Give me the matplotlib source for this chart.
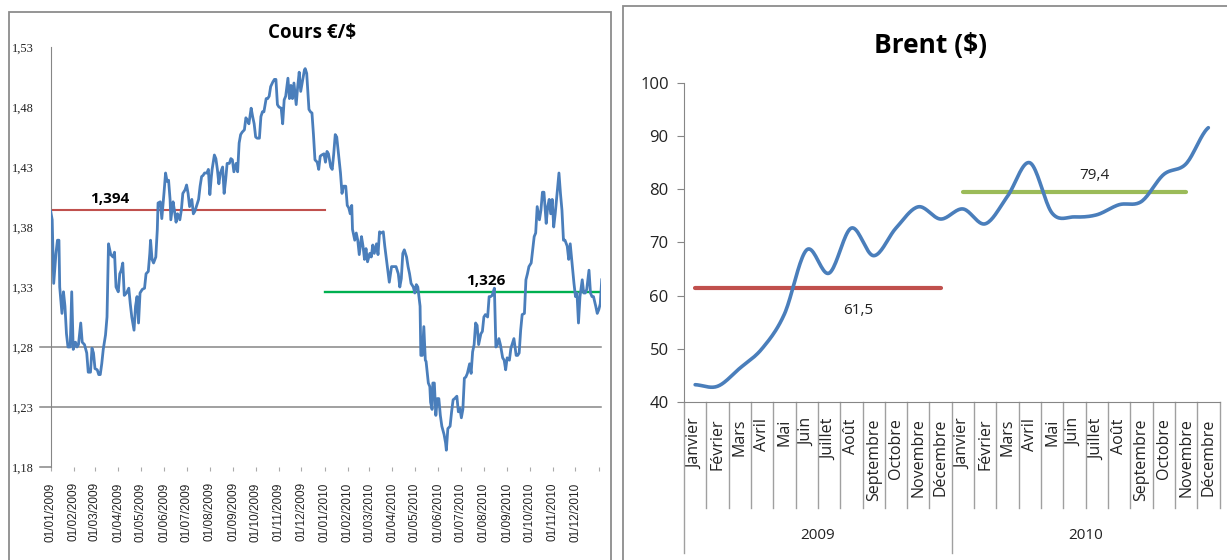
import numpy as np
import matplotlib.pyplot as plt
from matplotlib.patches import Rectangle
import matplotlib.transforms as mtransforms

# ---- Cours EUR/USD (jours depuis le 01/01/2009) ----
jours = [0, 2, 4, 7, 9, 11, 12, 15, 17, 19, 21, 23, 26, 28, 30, 33, 35, 37, 40, 42, 45, 48, 50, 53, 55, 57, 59, 62, 64, 66,
         68, 70, 73, 75, 77, 80, 83, 85, 87, 90, 92, 94, 96, 98, 101, 104, 106, 108, 111, 113, 115, 117, 119, 122, 125, 127,
         130, 132, 133, 135, 137, 140, 142, 143, 146, 148, 151, 153, 155, 157, 159, 160, 163, 165, 167, 169, 172, 174, 176,
         179, 181, 183, 185, 188, 190, 192, 194, 197, 199, 201, 203, 205, 208, 210, 212, 214, 215, 218, 220, 222, 224, 226,
         229, 231, 233, 235, 238, 240, 242,
         244, 247, 249, 251, 253, 255, 258, 260, 262, 264, 267, 269, 271, 273, 275, 278, 280, 282, 284, 287, 289, 291, 293,
         296, 298, 300, 302, 304, 307, 309, 311, 313, 316, 318, 320, 322, 324, 327, 329, 331, 333, 336, 338, 339, 341, 344,
         346, 348, 350, 352, 355, 357, 359, 361, 364, 366, 368, 370, 373, 375, 377, 379, 381, 384, 386, 388, 390, 393, 395,
         397, 399, 401, 402, 405, 407, 409, 411, 414, 416, 418, 420, 422, 425, 427, 429, 431, 434, 436, 438, 440, 443, 445,
         447, 449, 451, 454, 456, 458, 460, 463, 465, 467, 469, 471, 474, 476, 478, 480, 483, 485, 487,
         489, 492, 493, 495, 497, 499, 500, 503, 505, 506, 508, 509, 511, 513, 515, 517, 519, 521, 524, 526, 527, 529, 532,
         534, 536, 538, 541, 543, 545, 547, 549, 551, 553, 555, 558, 560, 562, 564, 566, 568, 570, 573, 575, 577, 579, 582,
         584, 586, 588, 591, 593, 595, 597, 599, 602, 604, 606, 608, 611, 613, 615, 617, 620, 622, 624, 626, 628, 631, 633,
         635, 637, 640, 642, 644, 646, 648, 651, 653, 655, 657, 660, 662, 664, 666, 668, 670, 672, 674, 677, 679, 681, 683,
         685, 688, 690, 692, 694, 697, 699, 701, 703, 705, 708, 710, 712, 714, 717, 719, 721, 723, 726, 728, 730, 732, 734]
cours = [1.393, 1.386, 1.333, 1.358, 1.369, 1.369, 1.330, 1.308, 1.326, 1.314, 1.291, 1.280, 1.280, 1.326, 1.278, 1.284,
         1.280, 1.282, 1.300, 1.284, 1.282, 1.275, 1.259, 1.259, 1.279, 1.275, 1.262, 1.261, 1.257, 1.257, 1.266, 1.278,
         1.290, 1.305, 1.366, 1.357, 1.355, 1.359, 1.330, 1.326, 1.341, 1.344, 1.350, 1.323, 1.325, 1.329, 1.316, 1.305,
         1.294, 1.314, 1.322, 1.300, 1.325, 1.328, 1.329, 1.341, 1.343, 1.358, 1.369, 1.353, 1.350, 1.355, 1.378, 1.400,
         1.401, 1.387, 1.409, 1.425, 1.418, 1.419, 1.403, 1.386, 1.401, 1.393, 1.384, 1.391, 1.386, 1.394, 1.408, 1.411,
         1.415, 1.408, 1.397, 1.403, 1.391, 1.393, 1.397, 1.403, 1.414, 1.422, 1.423, 1.425, 1.425, 1.428, 1.407, 1.422,
         1.428, 1.440, 1.437, 1.428, 1.416, 1.425, 1.430, 1.408, 1.419, 1.433, 1.433, 1.437, 1.436,
         1.426, 1.433, 1.426, 1.450, 1.457, 1.459, 1.461, 1.471, 1.469, 1.466, 1.479, 1.472, 1.466, 1.455, 1.454, 1.454,
         1.472, 1.476, 1.476, 1.487, 1.487, 1.489, 1.497, 1.501, 1.503, 1.503, 1.482, 1.480, 1.479, 1.466, 1.486, 1.489,
         1.504, 1.487, 1.498, 1.487, 1.500, 1.482, 1.497, 1.509, 1.493, 1.504, 1.511, 1.512, 1.508, 1.478, 1.476, 1.475,
         1.457, 1.436, 1.434, 1.428, 1.439, 1.440, 1.441, 1.434, 1.443, 1.441, 1.430, 1.428, 1.441, 1.457, 1.455, 1.437,
         1.425, 1.408, 1.414, 1.414, 1.398, 1.396, 1.391, 1.398, 1.378, 1.369, 1.375, 1.369, 1.357, 1.372, 1.364, 1.353,
         1.362, 1.351, 1.358, 1.355, 1.365, 1.358, 1.366, 1.357, 1.376, 1.375, 1.376, 1.364, 1.354, 1.344, 1.334, 1.347,
         1.347, 1.347, 1.347, 1.341, 1.330, 1.337, 1.358, 1.361, 1.355, 1.347, 1.341, 1.333, 1.330, 1.325, 1.332,
         1.330, 1.314, 1.273, 1.273, 1.297, 1.269, 1.268, 1.250, 1.247, 1.234, 1.228, 1.250, 1.250, 1.223, 1.237, 1.237,
         1.223, 1.214, 1.207, 1.200, 1.194, 1.212, 1.214, 1.226, 1.236, 1.237, 1.239, 1.226, 1.229, 1.221, 1.228, 1.254,
         1.255, 1.258, 1.266, 1.258, 1.276, 1.282, 1.300, 1.298, 1.282, 1.291, 1.293, 1.305, 1.307, 1.305, 1.322, 1.322,
         1.323, 1.329, 1.280, 1.282, 1.287, 1.282, 1.271, 1.269, 1.261, 1.271, 1.269, 1.279, 1.283, 1.287, 1.273, 1.273,
         1.275, 1.294, 1.307, 1.308, 1.336, 1.341, 1.347, 1.350, 1.361, 1.372, 1.375, 1.397, 1.386, 1.394, 1.409, 1.409,
         1.383, 1.397, 1.403, 1.391, 1.403, 1.380, 1.391, 1.405, 1.425, 1.408, 1.394, 1.369, 1.369, 1.364, 1.353, 1.366,
         1.353, 1.333, 1.322, 1.325, 1.300, 1.322, 1.336, 1.325, 1.325, 1.328, 1.344, 1.325, 1.322, 1.322, 1.314, 1.308,
         1.311, 1.316, 1.336]
moy_cours = [1.394, 1.326]
moy_cours_txt = ['1,394', '1,326']

# ---- Brent ($), moyennes mensuelles ----
mois = ['Janvier', 'Février', 'Mars', 'Avril', 'Mai', 'Juin', 'Juillet', 'Août',
        'Septembre', 'Octobre', 'Novembre', 'Décembre']
annees = ['2009', '2010']
brent = [43.2, 42.9, 46.3, 50.0, 56.5, 68.6, 64.2, 72.7, 67.5, 72.7, 76.7, 74.4,
         76.3, 73.5, 78.7, 85.0, 75.5, 74.8, 75.2, 77.1, 77.7, 82.8, 84.8, 91.6]
moy_brent = [61.5, 79.4]
moy_brent_txt = ['61,5', '79,4']

W, H = 1227, 560
fig = plt.figure(figsize=(W / 100, H / 100), dpi=100)
GRIS = '#868686'
BLEU = '#4A7EBB'


def box(x0, y0, x1, y1):
    # pixels (origine en haut a gauche) -> coordonnees figure
    return [x0 / W, 1 - y1 / H, (x1 - x0) / W, (y1 - y0) / H]


# cadres des deux graphiques
fig.patches.append(Rectangle((9 / W, -0.01), 602 / W, (548 + 6) / H, transform=fig.transFigure,
                             fill=False, ec='#8c8c8c', lw=1.3))
fig.patches.append(Rectangle((622.5 / W, -0.01), 0.6, (554 + 6) / H, transform=fig.transFigure,
                             fill=False, ec='#8c8c8c', lw=1.3))

# ================= graphique de gauche =================
ax1 = fig.add_axes(box(50.7, 47, 601, 467))
j = np.array(jours)
ax1.plot(j, cours, color=BLEU, lw=2.0, zorder=3)
ax1.set_xlim(0, 733)
ax1.set_ylim(1.18, 1.53)

# lignes de moyenne par annee
debut = [0, 365]
fin = [365, 734]
ax1.plot([debut[0], fin[0]], [moy_cours[0]] * 2, color='#C0504D', lw=1.5, zorder=2)
ax1.plot([debut[1], fin[1]], [moy_cours[1]] * 2, color='#00B050', lw=1.7, zorder=2)
ax1.text(78, moy_cours[0] + 0.009, moy_cours_txt[0], ha='center', va='center',
         fontsize=11, fontweight='bold', family='Open Sans')
ax1.text(580, moy_cours[1] + 0.009, moy_cours_txt[1], ha='center', va='center',
         fontsize=11, fontweight='bold', family='Open Sans')

# grille (seulement 1,23 et 1,28) et petit trait a 1,18
for g in [1.23, 1.28]:
    ax1.plot([-0.019, 1], [g, g], color=GRIS, lw=1.1, transform=ax1.get_yaxis_transform(),
             clip_on=False, zorder=1)
ax1.plot([-0.019, 0], [1.18, 1.18], color=GRIS, lw=1.1, transform=ax1.get_yaxis_transform(),
         clip_on=False)

yt = np.arange(1.18, 1.531, 0.05)
ax1.set_yticks(yt)
ax1.set_yticklabels([f'{v:.2f}'.replace('.', ',') for v in yt], family='Liberation Serif',
                    fontsize=9, color='#222222')
ax1.tick_params(axis='y', length=0, pad=12)

m = np.arange('2009-01', '2011-02', dtype='datetime64[M]')
mj = (m.astype('datetime64[D]') - np.datetime64('2009-01-01')).astype(int)
lbl = [f'01/{(k % 12) + 1:02d}/{2009 + k // 12}' for k in range(len(m) - 1)] + ['']
ax1.set_xticks(mj)
ax1.set_xticklabels(lbl, rotation=90, fontsize=8.5, family='Liberation Sans', color='#222222')
ax1.tick_params(axis='x', length=3, color='#aaaaaa', pad=8)

for s in ['top', 'right', 'bottom']:
    ax1.spines[s].set_visible(False)
ax1.spines['left'].set_color(GRIS)
fig.text(312 / W, 1 - 33 / H, 'Cours €/$', ha='center', va='center', fontsize=13.5,
         fontweight='bold', family='Open Sans')

# ================= graphique de droite =================
ax2 = fig.add_axes(box(684, 83.1, 1219.5, 401.7))


def lisse(y, n=20):
    # courbe lissee (type Excel : Catmull-Rom)
    p = np.concatenate([[y[0]], y, [y[-1]]])
    xs, ys = [], []
    t = np.linspace(0, 1, n, endpoint=False)
    for i in range(1, len(p) - 2):
        p0, p1, p2, p3 = p[i - 1], p[i], p[i + 1], p[i + 2]
        ys.append(0.5 * (2 * p1 + (p2 - p0) * t + (2 * p0 - 5 * p1 + 4 * p2 - p3) * t ** 2
                         + (3 * p1 - p0 - 3 * p2 + p3) * t ** 3))
        xs.append(i - 1 + t)
    xs.append([len(y) - 1])
    ys.append([y[-1]])
    return np.concatenate(xs), np.concatenate(ys)


xs, ys = lisse(np.array(brent))
ax2.plot(xs, ys, color=BLEU, lw=2.6, solid_capstyle='round', zorder=3)
ax2.plot([0, 11], [moy_brent[0]] * 2, color='#C0504D', lw=3, solid_capstyle='round', zorder=2)
ax2.plot([12, 22], [moy_brent[1]] * 2, color='#9BBB59', lw=3, solid_capstyle='round', zorder=2)
ax2.text(7.3, moy_brent[0] - 4.3, moy_brent_txt[0], ha='center', va='center', fontsize=11,
         family='Open Sans', color='#222222')
ax2.text(17.9, moy_brent[1] + 3.2, moy_brent_txt[1], ha='center', va='center', fontsize=11,
         family='Open Sans', color='#222222')

ax2.set_xlim(-0.5, 23.5)
ax2.set_ylim(40, 100)
ax2.set_yticks(np.arange(40, 101, 10))
ax2.set_yticklabels([str(v) for v in range(40, 101, 10)], fontsize=12, family='Open Sans',
                    color='#222222')
ax2.tick_params(axis='y', length=5, color=GRIS, pad=6)
ax2.set_xticks(np.arange(24))
ax2.set_xticklabels(mois * 2, rotation=90, fontsize=11.5, family='Open Sans', color='#222222')
ax2.tick_params(axis='x', length=0, pad=12)
for s in ['top', 'right']:
    ax2.spines[s].set_visible(False)
for s in ['left', 'bottom']:
    ax2.spines[s].set_color(GRIS)

# separateurs de l'axe des categories
tr = mtransforms.blended_transform_factory(ax2.transData, ax2.transAxes)
for b in np.arange(0.5, 24, 1):
    if b == 11.5:
        ax2.plot([b, b], [0, -0.475], color='#a0a0a0', lw=1, transform=tr, clip_on=False)
    else:
        ax2.plot([b, b], [0, -0.334], color='#a0a0a0', lw=1, transform=tr, clip_on=False)
ax2.plot([-0.5, -0.5], [0, -0.475], color='#a0a0a0', lw=1, transform=tr, clip_on=False)
for k, a in enumerate(annees):
    ax2.text(5.5 + 12 * k, -0.4215, a, ha='center', va='center', fontsize=11,
             family='Open Sans', color='#222222', transform=tr)

fig.text(930 / W, 1 - 45 / H, 'Brent ($)', ha='center', va='center', fontsize=19,
         fontweight='bold', family='Open Sans')

fig.savefig('out.png', dpi=100)
